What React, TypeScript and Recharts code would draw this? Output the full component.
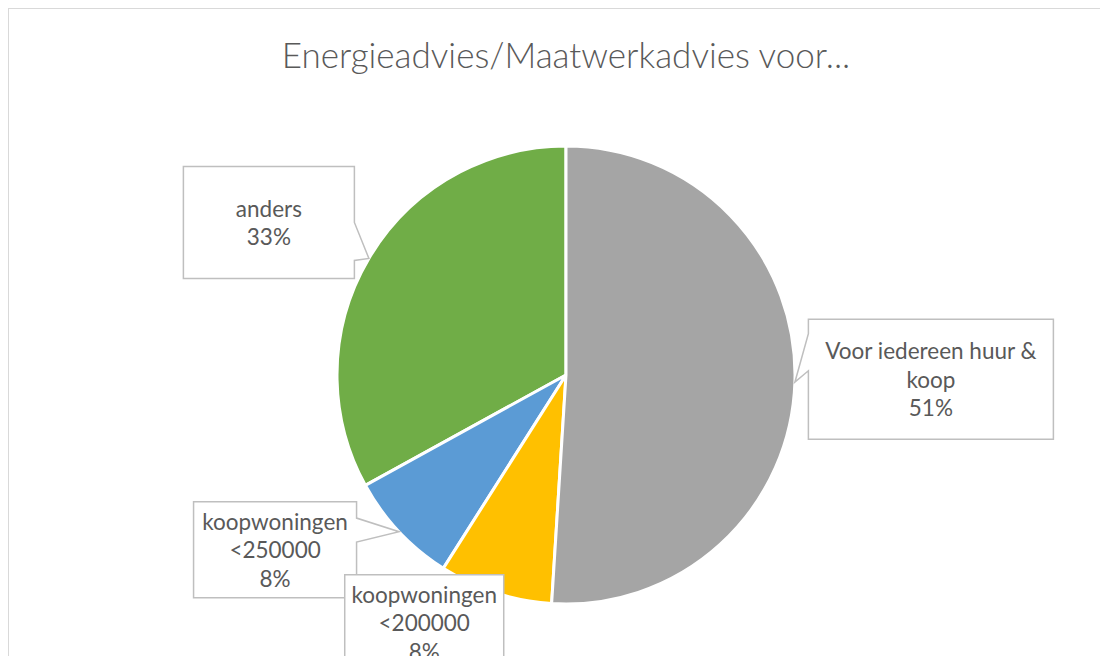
import { Pie, PieChart, Cell } from "recharts";

// slice order runs counter-clockwise from 12 o'clock so the callouts stack like the original
const categories = ["anders", "koopwoningen <250000", "koopwoningen <200000", "Voor iedereen huur & koop"];
const shares = [33, 8, 8, 51];
const colors = ["#70AD47", "#5B9BD5", "#FFC000", "#A5A5A5"];

// callout box placement relative to the point on the rim; b0/b1 = pointer base along the side
const callouts = [
  { dx: -100, dy: -36, w: 171, h: 112, b0: 0.5, b1: 0.84 },
  { dx: -124, dy: 18, w: 163, h: 96, b0: 0.17, b1: 0.42 },
  { dx: -71, dy: 30, w: 159, h: 96, b0: 0, b1: 0 },
  { dx: 136, dy: -3, w: 245, h: 120, b0: 0.12, b1: 0.43 },
];

const data = categories.map((name, i) => ({ name, value: shares[i] }));

const RADIAN = Math.PI / 180;
const FONT = "Lato, 'Open Sans', sans-serif";
const TEXT = "#595959";

function wrap(text: string, maxChars: number) {
  const lines: string[] = [];
  let cur = "";
  for (const word of text.split(" ")) {
    const next = cur ? cur + " " + word : word;
    if (next.length > maxChars && cur) {
      lines.push(cur);
      cur = word;
    } else {
      cur = next;
    }
  }
  if (cur) lines.push(cur);
  return lines;
}

function CalloutLabel(props: any) {
  const { cx, cy, midAngle, outerRadius, index, percent, name } = props;
  const c = callouts[index];
  const ax = cx + outerRadius * Math.cos(-midAngle * RADIAN);
  const ay = cy + outerRadius * Math.sin(-midAngle * RADIAN);
  const bx = ax + c.dx;
  const by = ay + c.dy;
  const left = bx - c.w / 2;
  const right = bx + c.w / 2;
  const top = by - c.h / 2;
  const bottom = by + c.h / 2;

  const y0b = top + c.b0 * c.h;
  const y1b = top + c.b1 * c.h;
  let d: string;
  if (ax > right) {
    d = `M${left},${top}H${right}V${y0b}L${ax},${ay}L${right},${y1b}V${bottom}H${left}Z`;
  } else if (ax < left) {
    d = `M${left},${top}H${right}V${bottom}H${left}V${y1b}L${ax},${ay}L${left},${y0b}Z`;
  } else {
    d = `M${left},${top}H${right}V${bottom}H${left}Z`;
  }

  const lines = [...wrap(name, Math.floor(c.w / 11)), `${Math.round(percent * 100)}%`];
  const lh = 28.5;
  const ty = by - ((lines.length - 1) * lh) / 2;

  return (
    <g>
      <path d={d} fill="#fff" stroke="#BFBFBF" strokeWidth={1.5} />
      <text textAnchor="middle" fontFamily={FONT} fontSize={22.5} fill={TEXT}>
        {lines.map((ln, i) => (
          <tspan key={i} x={bx} y={ty + i * lh} dominantBaseline="central">
            {ln}
          </tspan>
        ))}
      </text>
    </g>
  );
}

export default function App() {
  return (
    <div
      style={{
        position: "relative",
        width: 1100,
        height: 656,
        marginBottom: -8,
        borderTop: "1.5px solid #D9D9D9",
        borderLeft: "1.5px solid #D9D9D9",
        boxSizing: "border-box",
        overflow: "hidden",
        background: "#fff",
      }}
    >
      <div
        style={{
          position: "absolute",
          top: 28,
          left: 557,
          transform: "translateX(-50%)",
          whiteSpace: "nowrap",
          fontFamily: FONT,
          fontWeight: 300,
          fontSize: 35,
          lineHeight: "35px",
          color: TEXT,
        }}
      >
        Energieadvies/Maatwerkadvies voor...
      </div>
      <div style={{ position: "absolute", top: 0, left: 0 }}>
        <PieChart width={1099} height={655} margin={{ top: 0, right: 0, bottom: 0, left: 0 }}>
          <Pie
            data={data}
            dataKey="value"
            nameKey="name"
            cx={557}
            cy={366}
            outerRadius={229}
            startAngle={90}
            endAngle={450}
            stroke="#fff"
            strokeWidth={3}
            label={CalloutLabel}
            labelLine={false}
            isAnimationActive={false}
          >
            {data.map((d, i) => (
              <Cell key={d.name} fill={colors[i]} />
            ))}
          </Pie>
        </PieChart>
      </div>
    </div>
  );
}
